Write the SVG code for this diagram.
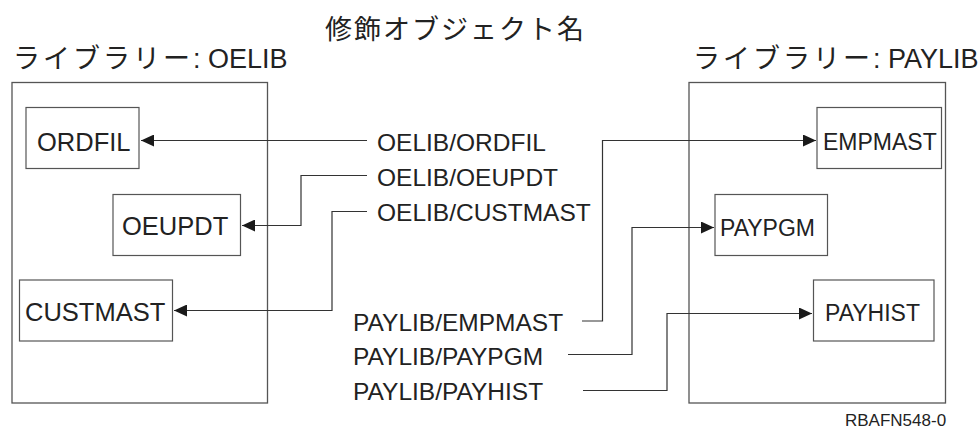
<svg xmlns="http://www.w3.org/2000/svg" width="980" height="431" viewBox="0 0 980 431">
<style>
  .lib { fill: none; stroke: #555; stroke-width: 1.3; }
  .obj { fill: #fff; stroke: #555; stroke-width: 1.2; }
  .t { font-family: "Liberation Sans", Arial, sans-serif; font-size: 24.5px; fill: #222; }
  .tl { font-size: 25.5px; }
  .tr { font-size: 23px; }
  .jp { font-family: "Liberation Sans", "Noto Sans CJK JP", sans-serif; fill: #222; }
  .kana { letter-spacing: 3px; }
  .conn path { fill: none; stroke: #333; stroke-width: 1.2; }
  .small { font-family: "Liberation Sans", Arial, sans-serif; font-size: 17px; fill: #222; }
</style>
<defs>
  <marker id="ah" markerWidth="13" markerHeight="12" refX="13" refY="6" orient="auto" markerUnits="userSpaceOnUse">
    <path d="M0,0 L13,6 L0,12 z" fill="#1a1a1a"/>
  </marker>
</defs>
<rect width="980" height="431" fill="#fff"/>

<text id="title" class="jp" x="325" y="39" font-size="27" letter-spacing="2">修飾オブジェクト名</text>

<g id="oelib">
  <text class="jp" x="13" y="68" font-size="27"><tspan class="kana">ライブラリー</tspan><tspan letter-spacing="0">: OELIB</tspan></text>
  <rect class="lib" x="12" y="82.5" width="255.5" height="320.5"/>
</g>
<g id="paylib">
  <text class="jp" x="693" y="68" font-size="27"><tspan class="kana">ライブラリー</tspan><tspan letter-spacing="0">: PAYLIB</tspan></text>
  <rect class="lib" x="689" y="82.5" width="256.5" height="320.5"/>
</g>

<g id="ordfil">
  <rect class="obj" x="26" y="107.5" width="113" height="61"/>
  <text class="t tl" x="37" y="151">ORDFIL</text>
</g>
<g id="oeupdt">
  <rect class="obj" x="113" y="194.5" width="127.5" height="61"/>
  <text class="t tl" x="122" y="235">OEUPDT</text>
</g>
<g id="custmast">
  <rect class="obj" x="19.5" y="280" width="153" height="61"/>
  <text class="t tl" x="25" y="321">CUSTMAST</text>
</g>
<g id="empmast">
  <rect class="obj" x="817" y="107.5" width="124.5" height="61"/>
  <text class="t tr" x="823" y="150">EMPMAST</text>
</g>
<g id="paypgm">
  <rect class="obj" x="715" y="194.5" width="112.5" height="61"/>
  <text class="t tr" x="720" y="236">PAYPGM</text>
</g>
<g id="payhist">
  <rect class="obj" x="813.5" y="280" width="120.5" height="61"/>
  <text class="t tr" x="825" y="321">PAYHIST</text>
</g>

<g id="labels">
  <text class="t" x="377" y="151">OELIB/ORDFIL</text>
  <text class="t" x="377" y="186">OELIB/OEUPDT</text>
  <text class="t" x="377" y="221">OELIB/CUSTMAST</text>
  <text class="t" x="353" y="331">PAYLIB/EMPMAST</text>
  <text class="t" x="353" y="365">PAYLIB/PAYPGM</text>
  <text class="t" x="353" y="400">PAYLIB/PAYHIST</text>
</g>

<g id="connectors" class="conn">
  <path d="M367,140.5 H141" marker-end="url(#ah)"/>
  <path d="M367,175.5 H301 V225.5 H242" marker-end="url(#ah)"/>
  <path d="M367,211.5 H332 V310.5 H174" marker-end="url(#ah)"/>
  <path d="M582,321 H602.5 V140.5 H816" marker-end="url(#ah)"/>
  <path d="M568,354.5 H632 V227.5 H714" marker-end="url(#ah)"/>
  <path d="M583,390.5 H667 V313.5 H812" marker-end="url(#ah)"/>
</g>

<text id="figid" class="small" x="845" y="426">RBAFN548-0</text>
</svg>
